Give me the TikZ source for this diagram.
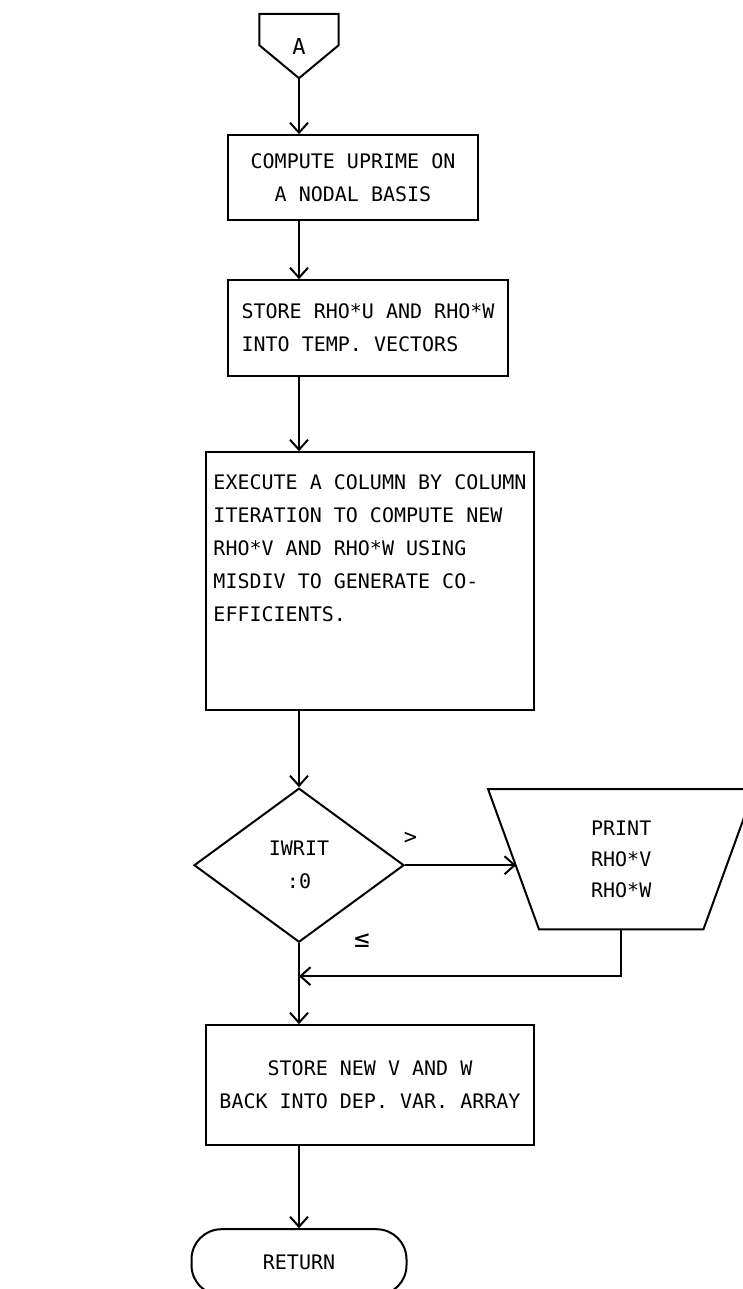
\documentclass[tikz,border=0pt]{standalone}
\usepackage{fontspec}
\newfontfamily\flowfont{DejaVu Sans Mono}
\usepackage{tikz}
\usetikzlibrary{positioning,arrows.meta,shapes.geometric}
\newcommand{\boxtext}{\flowfont\fontsize{20}{33}\selectfont}
\tikzset{
  box/.style={draw, line width=2pt, font=\boxtext, inner sep=0pt, align=left},
  cbox/.style={box, align=center},
  decide/.style={box, diamond, align=center},
  io/.style={font=\flowfont\fontsize{20}{31}\selectfont, inner sep=0pt, align=left, minimum width=266pt, minimum height=140pt},
  term/.style={box, rounded corners=30pt},
  conn/.style={font=\flowfont\fontsize{22}{22}\selectfont, minimum width=79pt, minimum height=64pt, inner sep=0pt},
  lab/.style={font=\boxtext, inner sep=0pt},
  flow/.style={-{Straight Barb[length=10pt,width=18pt]}, line width=2pt},
}

\begin{document}
\begin{tikzpicture}[x=1pt, y=1pt]
  \useasboundingbox (0,0) rectangle (742,-1289);
  \node[conn] (conA) at (299,-46) {A};
  \draw[line width=2pt] (conA.north west) -- (conA.north east) -- ([yshift=33pt]conA.south east) -- (conA.south) -- ([yshift=33pt]conA.south west) -- cycle;
  \node[cbox, minimum width=250pt, minimum height=85pt, below=56pt of conA, xshift=54pt] (upr) {COMPUTE UPRIME ON\\A NODAL BASIS};
  \node[box, minimum width=280pt, minimum height=96pt, below=58pt of upr, xshift=15pt] (tmp) {STORE RHO*U AND RHO*W\\INTO TEMP. VECTORS};
  \node[box, minimum width=328pt, minimum height=258pt, below=74pt of tmp, xshift=2pt] (iter) {EXECUTE A COLUMN BY COLUMN\\ITERATION TO COMPUTE NEW\\RHO*V AND RHO*W USING\\MISDIV TO GENERATE CO-\\EFFICIENTS.\\\mbox{}\\\mbox{}};
  \node[decide, minimum width=210pt, minimum height=154pt, below=76pt of iter, xshift=-71pt] (iw) {IWRIT\\:0};
  \node[io, right=83pt of iw, yshift=6pt] (prt) {PRINT\\RHO*V\\RHO*W};
  \draw[line width=2pt] (prt.north west) -- (prt.north east) -- ([xshift=-51pt]prt.south east) -- ([xshift=51pt]prt.south west) -- cycle;
  \node[cbox, minimum width=328pt, minimum height=120pt, below=81pt of iw, xshift=71pt] (sto) {STORE NEW V AND W\\BACK INTO DEP. VAR. ARRAY};
  \node[term, minimum width=215pt, minimum height=66pt, below=82pt of sto, xshift=-71pt] (ret) {RETURN};
  \coordinate (jn) at ([yshift=-33pt]iw.south);
  \coordinate (prtin) at ([xshift=28pt]iw.east -| prt.west);

  \draw[flow] (conA.south) -- (conA.south |- upr.north);
  \draw[flow] (conA.south |- upr.south) -- (conA.south |- tmp.north);
  \draw[flow] (conA.south |- tmp.south) -- (conA.south |- iter.north);
  \draw[flow] (conA.south |- iter.south) -- (iw.north);
  \draw[flow] (iw.east) -- node[lab, font=\flowfont\fontsize{22}{22}\selectfont, pos=0.05, above=20pt]{>} (prtin);
  \draw[flow] (iw.south) -- node[lab, font=\flowfont\fontsize{26}{26}\selectfont, pos=0, right=54pt, yshift=3pt]{≤} (iw.south |- sto.north);
  \draw[flow] (prt.south) |- (jn);
  \draw[flow] (sto.south -| iw.south) -- (ret.north -| iw.south);
\end{tikzpicture}
\end{document}
